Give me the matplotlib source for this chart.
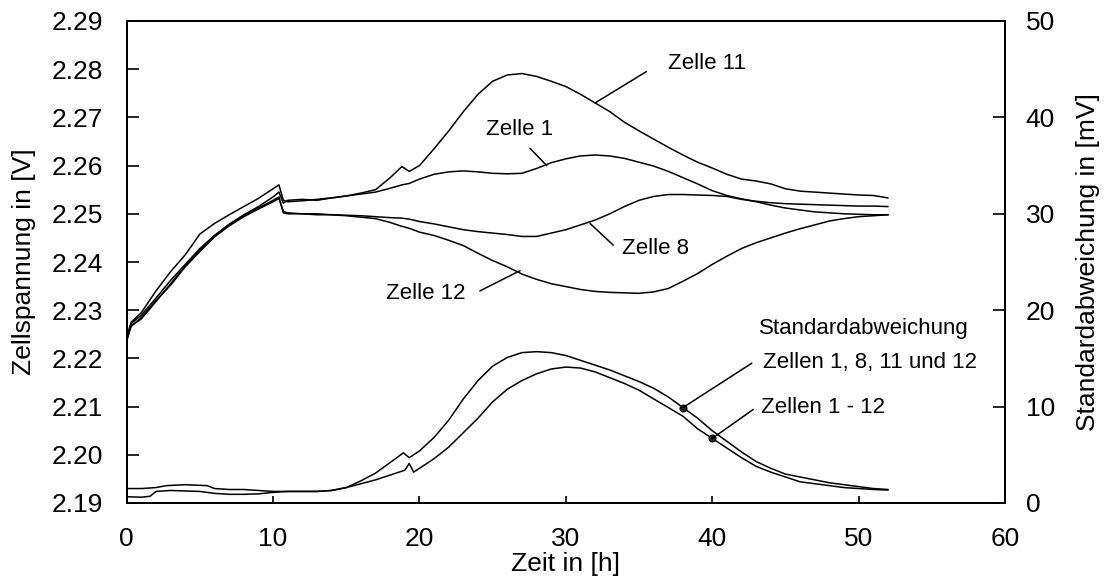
import matplotlib
matplotlib.use("Agg")
import matplotlib.pyplot as plt
import numpy as np

plt.rcParams['font.family'] = ['Liberation Sans', 'DejaVu Sans']

# ---- data ----
t_cell = [0, 0.3, 1, 2, 3, 4, 5, 6, 7, 8, 9, 10, 10.4, 10.7, 11, 12, 13, 14, 15, 16, 17, 18,
          18.8, 19.3, 20, 21, 22, 23, 24, 25, 26, 27, 28, 29, 30, 31, 32, 33, 34, 35, 36,
          37, 38, 39, 40, 41, 42, 43, 44, 45, 46, 47, 48, 49, 50, 51, 52]

zelle_11 = [2.2235, 2.2272, 2.2290, 2.2325, 2.2362, 2.2395, 2.2428, 2.2455, 2.2478, 2.2498,
            2.2515, 2.2535, 2.2545, 2.2522, 2.2528, 2.2530, 2.2528, 2.2533, 2.2537, 2.2543,
            2.2550, 2.2575, 2.2598, 2.2588, 2.2600, 2.2635, 2.2672, 2.2712, 2.2748, 2.2775,
            2.2788, 2.2791, 2.2785, 2.2775, 2.2764, 2.2748, 2.2730, 2.2712, 2.2690, 2.2672,
            2.2655, 2.2638, 2.2622, 2.2607, 2.2595, 2.2582, 2.2572, 2.2568, 2.2562, 2.2552,
            2.2547, 2.2545, 2.2543, 2.2541, 2.2539, 2.2538, 2.2533]

zelle_1 = [2.2245, 2.2275, 2.2295, 2.2340, 2.2380, 2.2415, 2.2458, 2.2480, 2.2498, 2.2515,
           2.2532, 2.2552, 2.2560, 2.2528, 2.2525, 2.2527, 2.2530, 2.2533, 2.2537, 2.2541,
           2.2545, 2.2553, 2.2560, 2.2563, 2.2572, 2.2582, 2.2587, 2.2589, 2.2587, 2.2584,
           2.2583, 2.2584, 2.2594, 2.2606, 2.2614, 2.2620, 2.2622, 2.2620, 2.2615, 2.2607,
           2.2599, 2.2588, 2.2575, 2.2562, 2.2548, 2.2538, 2.2531, 2.2525, 2.2518, 2.2512,
           2.2508, 2.2504, 2.2502, 2.2500, 2.2499, 2.2498, 2.2498]

zelle_8 = [2.2238, 2.2268, 2.2282, 2.2318, 2.2355, 2.2392, 2.2425, 2.2455, 2.2478, 2.2497,
           2.2512, 2.2528, 2.2535, 2.2502, 2.2500, 2.2500, 2.2498, 2.2498, 2.2497, 2.2496,
           2.2494, 2.2492, 2.2491, 2.2489, 2.2484, 2.2479, 2.2473, 2.2467, 2.2463, 2.2460,
           2.2457, 2.2453, 2.2453, 2.2460, 2.2467, 2.2477, 2.2487, 2.2500, 2.2515, 2.2528,
           2.2536, 2.2540, 2.2540, 2.2539, 2.2538, 2.2536, 2.2530, 2.2526, 2.2523, 2.2521,
           2.2520, 2.2519, 2.2518, 2.2517, 2.2516, 2.2516, 2.2515]

zelle_12 = [2.2240, 2.2266, 2.2285, 2.2320, 2.2352, 2.2390, 2.2422, 2.2452, 2.2475, 2.2494,
            2.2510, 2.2525, 2.2532, 2.2505, 2.2502, 2.2500, 2.2500, 2.2498, 2.2496, 2.2493,
            2.2490, 2.2482, 2.2474, 2.2470, 2.2462, 2.2455, 2.2445, 2.2434, 2.2418, 2.2403,
            2.2390, 2.2375, 2.2364, 2.2355, 2.2349, 2.2343, 2.2339, 2.2337, 2.2336, 2.2335,
            2.2338, 2.2345, 2.2360, 2.2376, 2.2395, 2.2412, 2.2428, 2.2440, 2.2450, 2.2460,
            2.2469, 2.2477, 2.2485, 2.2490, 2.2494, 2.2496, 2.2498]

t_std4 = [0, 1, 2, 2.7, 4, 5.5, 6, 7, 8, 9, 10, 11, 12, 13, 14, 15, 16, 17, 18, 18.9, 19.3,
          20, 21, 22, 23, 24, 25, 26, 27, 28, 29, 30, 31, 32, 33, 34, 35, 36, 37, 38, 39,
          40, 41, 42, 43, 44, 45, 46, 47, 48, 49, 50, 51, 52]
std_4 = [1.5, 1.5, 1.6, 1.8, 1.9, 1.8, 1.5, 1.4, 1.4, 1.3, 1.2, 1.2, 1.2, 1.2, 1.3, 1.6,
         2.3, 3.1, 4.2, 5.2, 4.7, 5.4, 6.8, 8.6, 10.8, 12.7, 14.2, 15.1, 15.6, 15.7, 15.6,
         15.3, 14.8, 14.3, 13.8, 13.2, 12.6, 11.9, 11.0, 9.9, 8.8, 7.5, 6.4, 5.3, 4.3, 3.6,
         3.0, 2.7, 2.4, 2.1, 1.9, 1.7, 1.5, 1.4]

t_std12 = [0, 1, 1.6, 2, 3, 4, 5, 6, 7, 8, 9, 10, 11, 12, 13, 14, 15, 16, 17, 18, 19, 19.3,
           19.6, 20, 21, 22, 23, 24, 25, 26, 27, 28, 29, 30, 31, 32, 33, 34, 35, 36, 37, 38,
           39, 40, 41, 42, 43, 44, 45, 46, 47, 48, 49, 50, 51, 52]
std_12 = [0.65, 0.6, 0.7, 1.2, 1.3, 1.25, 1.2, 1.0, 0.9, 0.9, 0.95, 1.1, 1.2, 1.2, 1.2, 1.3,
          1.6, 2.0, 2.4, 2.9, 3.4, 4.1, 3.2, 3.6, 4.6, 5.8, 7.3, 8.8, 10.5, 11.8, 12.7, 13.4,
          13.9, 14.1, 14.0, 13.6, 13.0, 12.4, 11.7, 10.8, 9.9, 9.0, 7.7, 6.7, 5.7, 4.7, 3.8,
          3.2, 2.7, 2.2, 2.0, 1.8, 1.6, 1.5, 1.4, 1.35]

x_ticks = [0, 10, 20, 30, 40, 50, 60]
y_left_ticks = [2.19, 2.20, 2.21, 2.22, 2.23, 2.24, 2.25, 2.26, 2.27, 2.28, 2.29]
y_right_ticks = [0, 10, 20, 30, 40, 50]

# ---- figure ----
fig = plt.figure(figsize=(11.09, 5.81), dpi=100)
ax = fig.add_axes([126.7 / 1109, 1 - 503 / 581, (1005 - 126.7) / 1109, (503 - 21) / 581])
ax2 = ax.twinx()

lw = 1.1
for series in (zelle_11, zelle_1, zelle_8, zelle_12):
    ax.plot(t_cell, series, color='black', lw=lw)
ax2.plot(t_std4, std_4, color='black', lw=lw)
ax2.plot(t_std12, std_12, color='black', lw=lw)

ax.set_xlim(0, 60)
ax.set_ylim(2.19, 2.29)
ax2.set_ylim(0, 50)
ax.set_xticks(x_ticks)
ax.set_yticks(y_left_ticks)
ax.set_yticklabels([f"{v:.2f}" for v in y_left_ticks])
ax2.set_yticks(y_right_ticks)

fs = 19
ax.tick_params(axis='y', direction='in', length=8.6, width=1.2, labelsize=fs, pad=17, right=False)
ax.tick_params(axis='x', direction='in', length=5, width=1.2, labelsize=fs, pad=17.5, top=False)
ax2.tick_params(axis='y', direction='in', length=8.6, width=1.2, labelsize=fs, pad=15)
for a in (ax, ax2):
    for s in a.spines.values():
        s.set_linewidth(1.3)

ax.set_xlabel("Zeit in [h]", fontsize=fs)
ax.xaxis.set_label_coords(0.5, -0.1017)
ax.set_ylabel("Zellspannung in [V]", fontsize=fs, va='center')
ax.yaxis.set_label_coords(-0.1169, 0.5)
ax2.set_ylabel("Standardabweichung in [mV]", fontsize=fs, va='center')
ax2.yaxis.set_label_coords(1.0945, 0.5)

# ---- annotations ----
afs = 16
line_kw = dict(arrowstyle='-', lw=1.1, color='black', shrinkA=0, shrinkB=0)

i11 = t_cell.index(32)
ax.annotate('', xy=(t_cell[i11], zelle_11[i11]), xytext=(35.5, 2.2795), arrowprops=line_kw)
ax.text(36.97, 2.2811, "Zelle 11", fontsize=afs, ha='left', va='center')

ax.annotate('', xy=(28.69, 2.2600), xytext=(27.55, 2.2636), arrowprops=line_kw)
ax.text(26.83, 2.2675, "Zelle 1", fontsize=afs, ha='center', va='center')

ax.annotate('', xy=(31.65, 2.2480), xytext=(33.24, 2.2435), arrowprops=line_kw)
ax.text(33.81, 2.2428, "Zelle 8", fontsize=afs, ha='left', va='center')

ax.annotate('', xy=(26.87, 2.2382), xytext=(24.13, 2.2340), arrowprops=line_kw)
ax.text(20.44, 2.2334, "Zelle 12", fontsize=afs, ha='center', va='center')

i4 = t_std4.index(38)
i12 = t_std12.index(40)
ax2.annotate('', xy=(t_std4[i4], std_4[i4]), xytext=(42.7, 14.5), arrowprops=line_kw)
ax2.annotate('', xy=(t_std12[i12], std_12[i12]), xytext=(42.8, 9.7), arrowprops=line_kw)
ax2.plot([t_std4[i4]], [std_4[i4]], marker='o', ms=5, color='#222222', mec='black', mew=0.8)
ax2.plot([t_std12[i12]], [std_12[i12]], marker='o', ms=5, color='#222222', mec='black', mew=0.8)

ax2.text(43.19, 18.15, "Standardabweichung", fontsize=afs, ha='left', va='center')
ax2.text(43.44, 14.6, "Zellen 1, 8, 11 und 12", fontsize=afs, ha='left', va='center')
ax2.text(43.33, 9.93, "Zellen 1 - 12", fontsize=afs, ha='left', va='center')

fig.savefig("out.png", dpi=100)
